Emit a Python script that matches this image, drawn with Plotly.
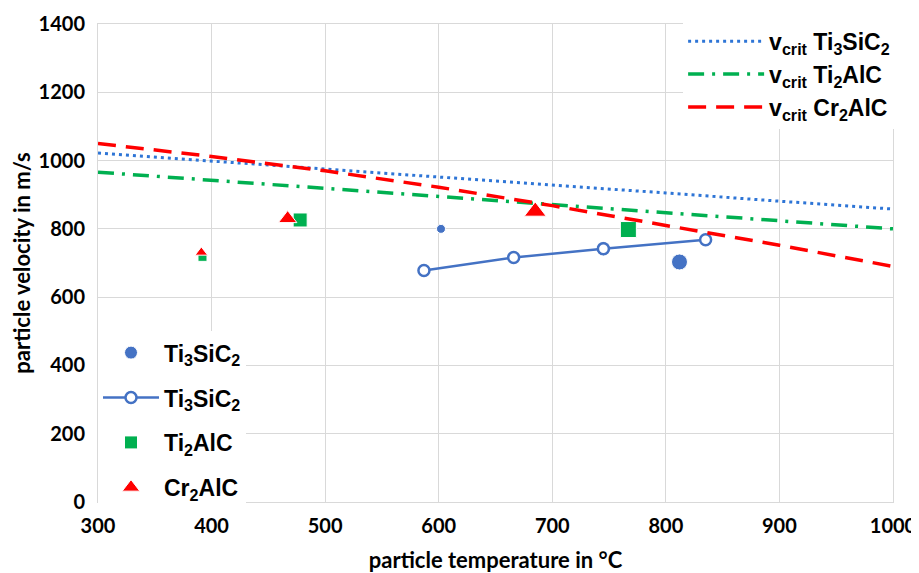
import plotly.graph_objects as go

# measured points
ti3sic2_T = [602, 745, 812]
ti3sic2_v = [800, 742, 703]
ti3sic2_size = [9, 14, 16]

ti3sic2_line_T = [587, 666, 745, 835]
ti3sic2_line_v = [678, 716, 742, 768]

ti2alc_T = [392, 478, 767]
ti2alc_v = [718, 826, 798]
ti2alc_size = [9, 14, 16]

cr2alc_T = [391, 467, 685]
cr2alc_v = [731, 830, 851]
cr2alc_size = [11, 16, 19]

# critical velocity curves
crit_T = [300, 400, 500, 600, 700, 800, 900, 1000]
vcrit_ti3sic2 = [1022, 999, 975, 952, 928, 905, 881, 858]
vcrit_ti2alc = [966, 942, 919, 895, 871, 848, 824, 800]
vcrit_cr2alc = [1050, 1012, 970, 922, 868, 810, 752, 690]

BLUE = "#4472C4"
LBLUE = "#2E75D6"
GREEN = "#00B050"
RED = "#FF0000"
LEGFONT = dict(family="Liberation Sans, Arial", size=23, color="black", weight="bold")
TOPFONT = dict(family="Liberation Sans, Arial", size=23, color="black", weight="bold")

fig = go.Figure()

fig.add_trace(go.Scatter(x=ti3sic2_T, y=ti3sic2_v, mode="markers",
                         marker=dict(symbol="circle", color=BLUE, size=ti3sic2_size, opacity=1),
                         name="Ti<sub>3</sub>SiC<sub>2</sub>", legend="legend2", legendgroup="a"))
fig.add_trace(go.Scatter(x=ti3sic2_line_T, y=ti3sic2_line_v, mode="lines+markers",
                         line=dict(color=BLUE, width=2.5),
                         marker=dict(symbol="circle", color="white", size=11, opacity=1,
                                     line=dict(color=BLUE, width=2.5)),
                         name="Ti<sub>3</sub>SiC<sub>2</sub>", legend="legend2", legendgroup="b"))
fig.add_trace(go.Scatter(x=ti2alc_T, y=ti2alc_v, mode="markers",
                         marker=dict(symbol="square", color=GREEN, size=ti2alc_size, opacity=1),
                         name="Ti<sub>2</sub>AlC", legend="legend2", legendgroup="c"))
fig.add_trace(go.Scatter(x=cr2alc_T, y=cr2alc_v, mode="markers",
                         marker=dict(symbol="triangle-up", color=RED, size=cr2alc_size, opacity=1),
                         name="Cr<sub>2</sub>AlC", legend="legend2", legendgroup="d"))

fig.add_trace(go.Scatter(x=crit_T, y=vcrit_ti3sic2, mode="lines",
                         line=dict(color=LBLUE, width=3, dash="3px,4px"),
                         name="v<sub>crit</sub> Ti<sub>3</sub>SiC<sub>2</sub>", legend="legend"))
fig.add_trace(go.Scatter(x=crit_T, y=vcrit_ti2alc, mode="lines",
                         line=dict(color=GREEN, width=3.5, dash="16px,8px,3px,8px"),
                         name="v<sub>crit</sub> Ti<sub>2</sub>AlC", legend="legend"))
fig.add_trace(go.Scatter(x=crit_T, y=vcrit_cr2alc, mode="lines",
                         line=dict(color=RED, width=3.5, dash="18px,10px"),
                         name="v<sub>crit</sub> Cr<sub>2</sub>AlC", legend="legend"))

tickfont = dict(family="Lato", size=20, color="black", weight="bold")
titlefont = dict(family="Lato", size=22, color="black", weight="bold")
fig.update_layout(
    width=911, height=565,
    margin=dict(l=90, r=26, t=13, b=71),
    paper_bgcolor="white", plot_bgcolor="white",
    xaxis=dict(range=[300, 1000], dtick=100, tick0=300, showgrid=True, gridcolor="#d9d9d9",
               gridwidth=1, zeroline=False, showline=True, linecolor="#d9d9d9", mirror=True,
               tickfont=tickfont, ticks="", ticklabelstandoff=6, automargin=False,
               title=dict(text="particle temperature in °C", font=titlefont, standoff=16)),
    yaxis=dict(range=[0, 1400], dtick=200, showgrid=True, gridcolor="#d9d9d9",
               gridwidth=1, zeroline=False, showline=True, linecolor="#d9d9d9", mirror=True,
               tickfont=tickfont, ticks="", ticklabelstandoff=8, automargin=False,
               title=dict(text="particle velocity in m/s", font=titlefont, standoff=12)),
    legend=dict(x=0.736, xanchor="left", y=0.895, yanchor="middle", bgcolor="white",
                font=TOPFONT, itemwidth=76, tracegroupgap=0),
    legend2=dict(x=0.0, xanchor="left", y=-0.015, yanchor="bottom", bgcolor="white",
                 font=LEGFONT, tracegroupgap=12, itemsizing="trace", itemwidth=56),
)

fig.write_html("out.html")
